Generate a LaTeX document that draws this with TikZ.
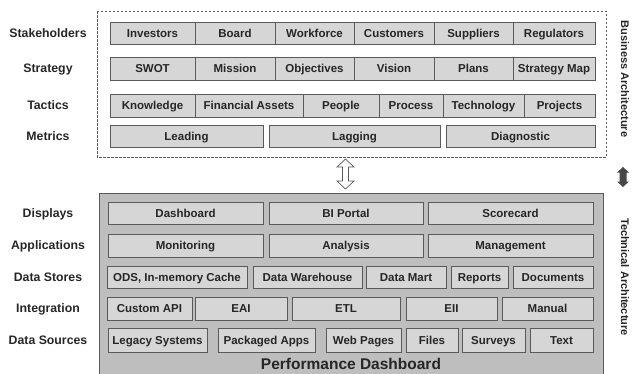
\documentclass[tikz,border=0pt]{standalone}
\usepackage{fontspec}
\setmainfont{Liberation Sans}
\definecolor{cellfill}{HTML}{D6D6D6}
\definecolor{panelfill}{HTML}{BEBEBE}
\definecolor{edge}{HTML}{5A5A5A}
\definecolor{ink}{HTML}{262626}
\definecolor{darkarrow}{HTML}{474747}
\tikzset{
  cell/.style={draw=edge, line width=0.9pt, fill=cellfill, inner sep=0pt,
    font=\fontsize{11.5}{12}\selectfont\bfseries, text=ink,
    text height=8.2pt, text depth=0pt},
  rowlabel/.style={font=\fontsize{12.3}{13}\selectfont\bfseries, text=ink, inner sep=0pt,
    text height=8.8pt, text depth=0pt},
  sidelabel/.style={font=\fontsize{11}{12}\selectfont\bfseries, text=ink, inner sep=0pt, rotate=-90},
  panel/.style={draw=edge, line width=1pt, fill=panelfill},
  dashedframe/.style={draw=edge, dashed, line width=0.8pt, dash pattern=on 2.5pt off 1.5pt},
  hollowarrow/.style={draw=edge, fill=white, line width=0.7pt, line join=miter},
  solidarrow/.style={fill=darkarrow, draw=none},
}
\newcommand\cellbox[6]{\node[cell, minimum width={(#4-#2)*1pt}, minimum height={(#5-#3)*1pt}] (#1) at ({(#2+#4)/2},{(#3+#5)/2}) {#6};}
\begin{document}
\begin{tikzpicture}[x=1pt,y=-1pt]
\useasboundingbox (0,0) rectangle (632,373);
% business frame
\draw[dashedframe] (97,11) rectangle (606,157);
\node[sidelabel] (ba) at (625,79) {Business Architecture};
% stakeholders
\cellbox{s1}{110}{22}{195}{44}{Investors}
\cellbox{s2}{195}{22}{275}{44}{Board}
\cellbox{s3}{275}{22}{354}{44}{Workforce}
\cellbox{s4}{354}{22}{434}{44}{Customers}
\cellbox{s5}{434}{22}{513}{44}{Suppliers}
\cellbox{s6}{513}{22}{595}{44}{Regulators}
% strategy
\cellbox{t1}{110}{57}{195}{80}{SWOT}
\cellbox{t2}{195}{57}{275}{80}{Mission}
\cellbox{t3}{275}{57}{354}{80}{Objectives}
\cellbox{t4}{354}{57}{434}{80}{Vision}
\cellbox{t5}{434}{57}{513}{80}{Plans}
\cellbox{t6}{513}{57}{595}{80}{Strategy Map}
% tactics
\cellbox{c1}{110}{94}{195}{117}{Knowledge}
\cellbox{c2}{195}{94}{303}{117}{Financial Assets}
\cellbox{c3}{303}{94}{379}{117}{People}
\cellbox{c4}{379}{94}{443}{117}{Process}
\cellbox{c5}{443}{94}{524}{117}{Technology}
\cellbox{c6}{524}{94}{595}{117}{Projects}
% metrics
\cellbox{m1}{110}{125}{263}{147}{Leading}
\cellbox{m2}{269}{125}{440}{147}{Lagging}
\cellbox{m3}{446}{125}{595}{147}{Diagnostic}
% technical panel
\path[panel] (99,380) -- (99,193) -- (603,193) -- (603,380);
\node[sidelabel] (ta) at (625,277) {Technical Architecture};
\cellbox{d1}{108}{202}{263}{224}{Dashboard}
\cellbox{d2}{269}{202}{423}{224}{BI Portal}
\cellbox{d3}{428}{202}{593}{224}{Scorecard}
\cellbox{a1}{108}{234}{263}{257}{Monitoring}
\cellbox{a2}{269}{234}{423}{257}{Analysis}
\cellbox{a3}{428}{234}{593}{257}{Management}
\cellbox{ds1}{107}{266}{247}{288}{ODS, In-memory Cache}
\cellbox{ds2}{253}{266}{362}{288}{Data Warehouse}
\cellbox{ds3}{366}{266}{446}{288}{Data Mart}
\cellbox{ds4}{451}{266}{508}{288}{Reports}
\cellbox{ds5}{513}{266}{593}{288}{Documents}
\cellbox{i1}{107}{297}{192}{320}{Custom API}
\cellbox{i2}{195}{297}{287}{320}{EAI}
\cellbox{i3}{292}{297}{400}{320}{ETL}
\cellbox{i4}{406}{297}{497}{320}{EII}
\cellbox{i5}{502}{297}{593}{320}{Manual}
\cellbox{so1}{108}{328}{207}{352}{Legacy Systems}
\cellbox{so2}{218}{328}{315}{352}{Packaged Apps}
\cellbox{so3}{326}{328}{401}{352}{Web Pages}
\cellbox{so4}{406}{328}{458}{352}{Files}
\cellbox{so5}{462}{328}{525}{352}{Surveys}
\cellbox{so6}{530}{328}{593}{352}{Text}
\node[font=\fontsize{15.5}{17}\selectfont\bfseries, text=ink, inner sep=0pt,
  text height=11pt, text depth=0pt] (title) at (351,364) {Performance Dashboard};
% row labels
\node[rowlabel] (l1) at (48,33) {Stakeholders};
\node[rowlabel] (l2) at (48,68.5) {Strategy};
\node[rowlabel] (l3) at (48,105) {Tactics};
\node[rowlabel] (l4) at (48,136) {Metrics};
\node[rowlabel] (l5) at (48,213) {Displays};
\node[rowlabel] (l6) at (48,245) {Applications};
\node[rowlabel] (l7) at (48,277) {Data Stores};
\node[rowlabel] (l8) at (48,308) {Integration};
\node[rowlabel] (l9) at (48,340) {Data Sources};
% arrows
\coordinate (ha) at (345.5,174);
\draw[hollowarrow] ([shift={(0,-15)}]ha) -- ++(8.5,8) -- ++(-5.5,0) -- ++(0,14) -- ++(5.5,0)
  -- ([shift={(0,15)}]ha) -- ++(-8.5,-8) -- ++(5.5,0) -- ++(0,-14) -- ++(-5.5,0) -- cycle;
\coordinate (sa) at (623,177);
\fill[solidarrow] ([shift={(0,-10)}]sa) -- ++(6,5.5) -- ++(-2.5,0) -- ++(0,9) -- ++(2.5,0)
  -- ([shift={(0,10)}]sa) -- ++(-6,-5.5) -- ++(2.5,0) -- ++(0,-9) -- ++(-2.5,0) -- cycle;
\end{tikzpicture}
\end{document}
